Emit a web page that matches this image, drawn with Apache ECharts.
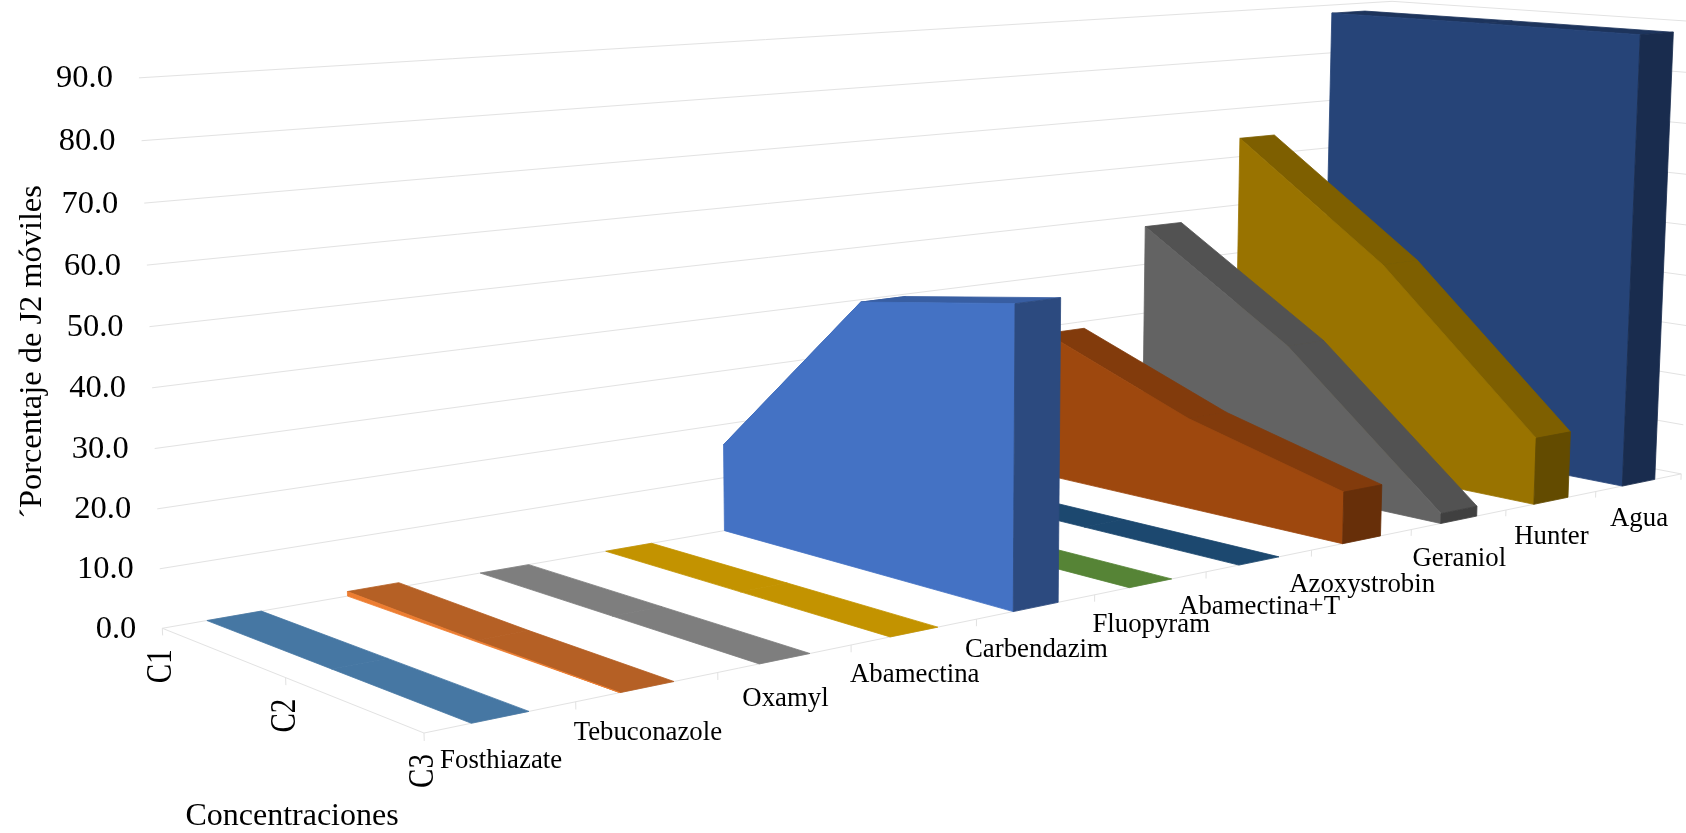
<!DOCTYPE html>
<html><head><meta charset="utf-8">
<style>html,body{margin:0;padding:0;background:#fff}#c{width:1686px;height:833px}</style>
<script src="https://cdn.jsdelivr.net/npm/echarts@6/dist/echarts.min.js"></script>
</head><body><div id="c"></div>
<script>
const products=['Fosthiazate','Tebuconazole','Oxamyl','Abamectina','Carbendazim','Fluopyram','Abamectina+T','Azoxystrobin','Geraniol','Hunter','Agua'];
const concentrations=['C1','C2','C3'];
const yTicks=[0,10,20,30,40,50,60,70,80,90];
const fosthiazate=[0,0,0];
const tebuconazole=[0.8,0.2,0];
const oxamyl=[0,0,0];
const abamectina=[0,0,0];
const carbendazim=[16.2,47.5,52];
const fluopyram=[0,0,0];
const abamectinaT=[0,0,0];
const azoxystrobin=[28.6,17.3,9.6];
const geraniol=[47.7,28.4,1.9];
const hunter=[63.8,41.9,12.9];
const agua=[88.3,88.4,88.4];
const seriesValues=[fosthiazate,tebuconazole,oxamyl,abamectina,carbendazim,fluopyram,abamectinaT,azoxystrobin,geraniol,hunter,agua];
const baseColors=['#5B9BD5','#ED7D31','#A5A5A5','#FFC000','#4472C4','#70AD47','#255E91','#9E480E','#636363','#997300','#264478'];
const ribbonLow=-0.195,ribbonHigh=0.185;

// Camera calibration: plot-box positions (unit x, value, unit depth) and where they fall on the canvas.
const cameraAnchors=[
[0,0,0,162,629],[0,90,0,139,78],[0,0,1,423,732],[1,0,1,1681,473],[1,90,0,1391.5,1],[1,90,1,1701,21.7],[1,0,0,1381,416],
[1/11,0,1,576.5,700],[2/11,0,1,718,671.7],[3/11,0,1,851,645],[4/11,0,1,975.5,620],[5/11,0,1,1095,595],[6/11,0,1,1206,572.7],[7/11,0,1,1312,550],[8/11,0,1,1412,530],[9/11,0,1,1505,511.7],[10/11,0,1,1596,491.7],
[.5/11,0,0,234.7,616.7],[1.5/11,0,0,373.7,588],[2.5/11,0,0,506,569],[3.5/11,0,0,631,548],
[0,10,0,159,569],[0,20,0,157,509],[0,30,0,154,449],[0,40,0,152,388],[0,50,0,149.5,327],[0,60,0,147,265],[0,70,0,144.6,203],[0,80,0,142,141],
[0,0,.5,286,678]
];
function solveCamera(a){
  const n=11,A=[],b=[];
  for(let i=0;i<n;i++){A.push(new Array(n).fill(0));b.push(0);}
  const add=(r,t)=>{for(let i=0;i<n;i++){b[i]+=r[i]*t;for(let j=0;j<n;j++)A[i][j]+=r[i]*r[j];}};
  a.forEach(([x,val,z,u,v])=>{const y=val/90;
    add([x,y,z,1,0,0,0,0,-u*x,-u*y,-u*z],u);
    add([0,0,0,0,x,y,z,1,-v*x,-v*y,-v*z],v);});
  for(let i=0;i<n;i++){let p=i;for(let k=i+1;k<n;k++)if(Math.abs(A[k][i])>Math.abs(A[p][i]))p=k;
    [A[i],A[p]]=[A[p],A[i]];[b[i],b[p]]=[b[p],b[i]];
    for(let k=i+1;k<n;k++){const f=A[k][i]/A[i][i];for(let j=i;j<n;j++)A[k][j]-=f*A[i][j];b[k]-=f*b[i];}}
  const m=new Array(n);for(let i=n-1;i>=0;i--){let s=b[i];for(let j=i+1;j<n;j++)s-=A[i][j]*m[j];m[i]=s/A[i][i];}
  return m;
}
const M=solveCamera(cameraAnchors);
function project(x,y,z){const w=M[8]*x+M[9]*y+M[10]*z+1;
  return [(M[0]*x+M[1]*y+M[2]*z+M[3])/w,(M[4]*x+M[5]*y+M[6]*z+M[7])/w];}
// Unit coordinates come from the hidden cartesian axes.
function unitX(params,api,idx,off){const g=params.coordSys;return (api.coord([idx,0])[0]-g.x)/g.width+off/products.length;}
function unitY(params,api,val){const g=params.coordSys;return 1-(api.coord([0,val])[1]-g.y)/g.height;}
function shade(hex,f){const n=parseInt(hex.slice(1),16);const c=s=>Math.round(((n>>s)&255)*f);return `rgb(${c(16)},${c(8)},${c(0)})`;}
function poly(pts,fill){return {type:'polygon',shape:{points:pts},style:{fill,stroke:fill,lineWidth:0.8,lineJoin:'round'}};}

// One ribbon: top facets first, then the long side wall, then the front cap.
// Falling facets catch a little more light than flat ones.
function renderRibbon(params,api){
  const idx=api.value(0),vals=concentrations.map((_,k)=>api.value(k+1));
  const x0=unitX(params,api,idx,ribbonLow),x1=unitX(params,api,idx,ribbonHigh);
  const zs=concentrations.map((_,k)=>k/(concentrations.length-1));
  const ys=vals.map(v=>unitY(params,api,v)),y0=unitY(params,api,0);
  const base=baseColors[idx],kids=[];
  for(let k=0;k<zs.length-1;k++){
    const f=Math.abs(vals[k]-vals[k+1])>1?.825:.765;
    kids.push(poly([project(x0,ys[k],zs[k]),project(x1,ys[k],zs[k]),project(x1,ys[k+1],zs[k+1]),project(x0,ys[k+1],zs[k+1])],shade(base,f)));
  }
  const L=zs.length-1;
  if(vals.some(v=>v>0)){
    const side=[project(x0,y0,zs[0])];
    zs.forEach((z,k)=>side.push(project(x0,ys[k],z)));
    side.push(project(x0,y0,zs[L]));
    kids.push(poly(side,base));
  }
  if(vals[L]>0)kids.push(poly([project(x0,y0,1),project(x0,ys[L],1),project(x1,ys[L],1),project(x1,y0,1)],shade(base,.65)));
  return {type:'group',children:kids};
}

const gridColor='#E2E2E2',textFont='"Liberation Serif","Times New Roman",serif';
const labelDrop=[44,46,40,43,43,42,46,45,39,36,36];
function seg(a,b){return {type:'line',shape:{x1:a[0],y1:a[1],x2:b[0],y2:b[1]},style:{stroke:gridColor,lineWidth:1}};}
function txt(s,x,y,size,rot,sy){return {type:'text',x,y,rotation:rot||0,scaleY:sy||1,style:{text:s,font:`${size}px ${textFont}`,fill:'#000',textAlign:'center',textVerticalAlign:'middle'}};}
// Back wall, side wall, floor edges, ticks and every axis text.
function renderFrame(params,api){
  const kids=[],drop=unitY(params,api,-1.2),y0=unitY(params,api,0);
  yTicks.forEach(t=>{const y=unitY(params,api,t);
    kids.push(seg(project(0,y,0),project(1,y,0)),seg(project(1,y,0),project(1,y,1)));
    const p=project(0,y,0);
    kids.push({type:'text',style:{text:t.toFixed(1),x:p[0]-26,y:p[1]+1,font:`32.5px ${textFont}`,fill:'#000',textAlign:'right',textVerticalAlign:'middle'}});});
  kids.push(seg(project(0,y0,0),project(0,y0,1)),seg(project(0,y0,1),project(1,y0,1)));
  concentrations.forEach((c,k)=>{const z=k/(concentrations.length-1),p=project(0,y0,z);
    kids.push(seg(p,project(0,drop,z)),txt(c,p[0],p[1]+38,29,Math.PI/2,1.2));});
  products.forEach((name,i)=>{const xe=unitX(params,api,i,.5),xm=unitX(params,api,i,0);
    kids.push(seg(project(xe,y0,1),project(xe,drop,1)));
    const p=project(xm,y0,1);kids.push(txt(name,p[0],p[1]+labelDrop[i],26.8));});
  kids.push(txt('´Porcentaje de J2 móviles',32,352,32.4,Math.PI/2),txt('Concentraciones',292,817,32));
  return {type:'group',children:kids};
}

const chart=echarts.init(document.getElementById('c'),null,{renderer:'canvas',width:1686,height:833});
const order=products.map((_,i)=>products.length-1-i);
chart.setOption({animation:false,backgroundColor:'#fff',
 grid:{left:0,right:0,top:0,bottom:0},
 xAxis:{type:'category',data:products,show:false},
 yAxis:{type:'value',min:0,max:90,interval:10,show:false},
 series:[{type:'custom',name:'marco',clip:false,silent:true,renderItem:renderFrame,data:[[0]]}].concat(
  order.map(i=>({type:'custom',name:products[i],clip:false,renderItem:renderRibbon,encode:{x:0,y:1},data:[[i].concat(seriesValues[i])]})))
});
</script></body></html>
